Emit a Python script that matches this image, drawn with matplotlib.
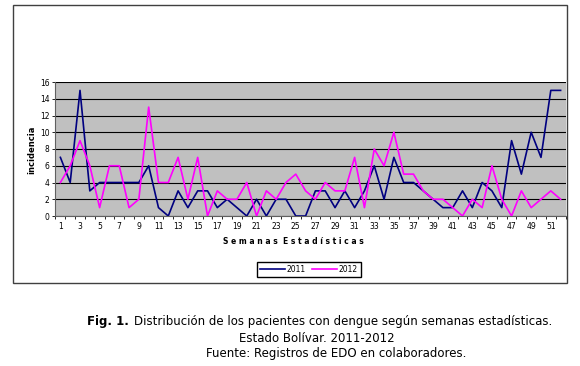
#Dengue cases per statistical week, Estado Bolivar 2011-2012
import matplotlib
matplotlib.use("Agg")
import matplotlib.pyplot as plt
from matplotlib.patches import Rectangle

weeks = list(range(1, 53))
cases_2011 = [7, 4, 15, 3, 4, 4, 4, 4, 4, 6, 1, 0, 3, 1, 3, 3, 1, 2, 1, 0,
              2, 0, 2, 2, 0, 0, 3, 3, 1, 3, 1, 3, 6, 2, 7, 4, 4, 3, 2, 1,
              1, 3, 1, 4, 3, 1, 9, 5, 10, 7, 15, 15]
cases_2012 = [4, 6, 9, 6, 1, 6, 6, 1, 2, 13, 4, 4, 7, 2, 7, 0, 3, 2, 2, 4,
              0, 3, 2, 4, 5, 3, 2, 4, 3, 3, 7, 1, 8, 6, 10, 5, 5, 3, 2, 2,
              1, 0, 2, 1, 6, 2, 0, 3, 1, 2, 3, 2]
week_labels = [str(w) for w in weeks[::2]]
yticks = list(range(0, 17, 2))

W, H = 580, 366
fig = plt.figure(figsize=(W / 100, H / 100), dpi=100)

# outer chart frame
fig.patches.append(Rectangle((13 / W, 1 - 283 / H), 554 / W, 278 / H,
                             transform=fig.transFigure, fill=False,
                             edgecolor='#404040', linewidth=1))

ax = fig.add_axes([55 / W, 1 - 216 / H, 511 / W, 134 / H])
ax.set_facecolor('#c0c0c0')
ax.plot(weeks, cases_2011, color='#000080', linewidth=1.2, label='2011')
ax.plot(weeks, cases_2012, color='#ff00ff', linewidth=1.2, label='2012')

ax.set_xlim(0.45, 52.55)
ax.set_ylim(0, 16)
ax.set_yticks(yticks)
ax.set_xticks(weeks[::2])
ax.set_xticklabels(week_labels)
ax.set_xticks([w + 0.5 for w in range(0, 53)], minor=True)
ax.grid(axis='y', color='black', linewidth=0.8)
ax.set_axisbelow(True)
ax.tick_params(axis='both', labelsize=5.5, length=2, width=0.6, pad=2)
ax.tick_params(axis='x', which='major', length=0, pad=4)
ax.tick_params(axis='x', which='minor', length=2, width=0.6)
for side in ['top', 'right']:
    ax.spines[side].set_visible(False)
ax.spines['left'].set_color('#606060')
ax.spines['bottom'].set_color('#606060')

fig.text(32 / W, 1 - 150 / H, 'incidencia', rotation=90, ha='center',
         va='center', fontsize=6, fontweight='bold')
fig.text(293 / W, 1 - 242 / H, 'S e m a n a s  E s t a d í s t i c a s',
         ha='center', va='center', fontsize=5.5, fontweight='bold')

fig.legend(loc='center', bbox_to_anchor=(309 / W, 1 - 269.5 / H), ncol=2,
           fontsize=5.5, frameon=True, fancybox=False, edgecolor='black',
           handlelength=3.2, columnspacing=0.8, handletextpad=0.3,
           borderpad=0.4, framealpha=1)

# caption
fig.text(129 / W, 1 - 322 / H, 'Fig. 1.', ha='right', va='center',
         fontsize=8.5, fontweight='bold')
fig.text(552 / W, 1 - 322 / H,
         'Distribución de los pacientes con dengue según semanas estadísticas.',
         ha='right', va='center', fontsize=8.5)
fig.text(317 / W, 1 - 338 / H, 'Estado Bolívar. 2011-2012',
         ha='center', va='center', fontsize=8.5)
fig.text(336 / W, 1 - 354 / H, 'Fuente: Registros de EDO en colaboradores.',
         ha='center', va='center', fontsize=8.5)

fig.savefig('out.png', dpi=100)
